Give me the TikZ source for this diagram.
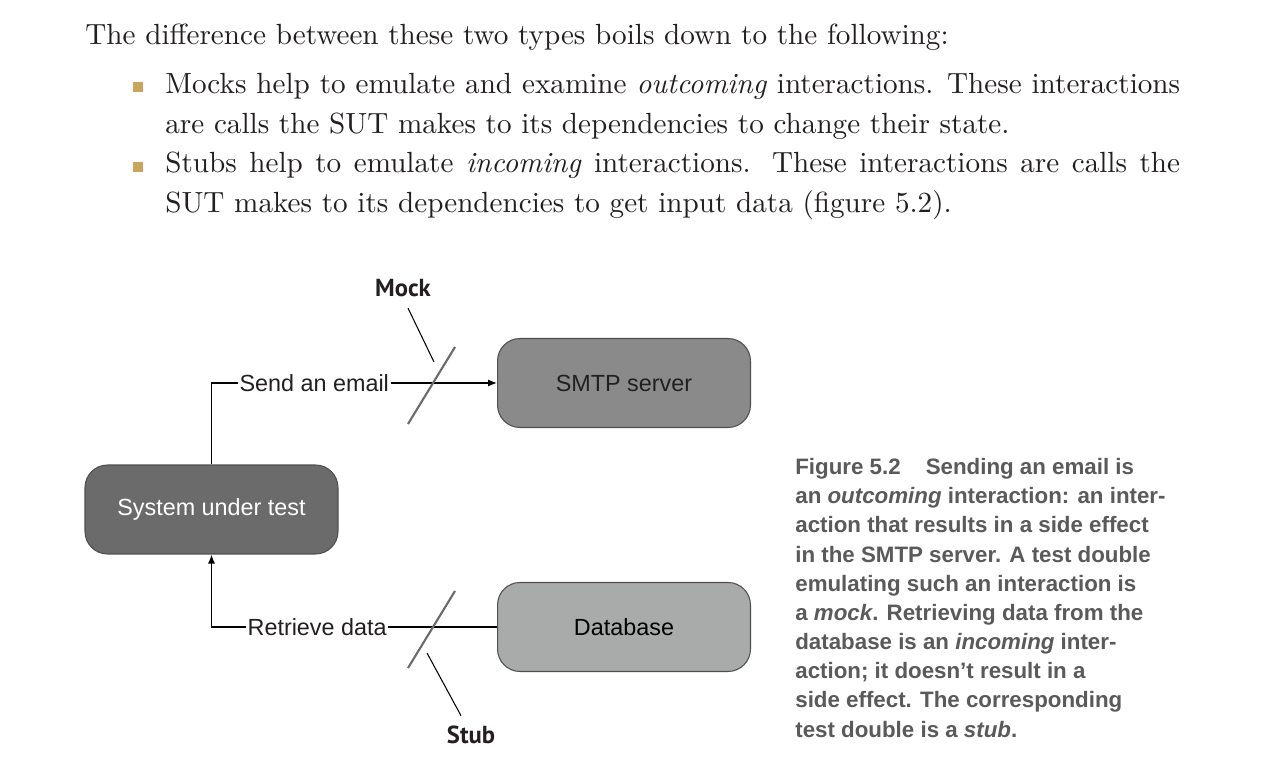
\documentclass[tikz,border=0pt]{standalone}
\usepackage{fontspec}
\usepackage{xcolor}
\usepackage{tikz}
\usetikzlibrary{arrows.meta, positioning}
\newfontfamily\bodyfont{lmroman10-regular.otf}[ItalicFont=lmroman10-italic.otf]
\newfontfamily\diagfont{Liberation Sans}
\newfontfamily\tagfont{PT Sans}
\definecolor{inkblack}{HTML}{231F20}
\definecolor{bulletgold}{HTML}{C9A55C}
\definecolor{sutgray}{HTML}{6B6B6B}
\definecolor{smtpgray}{HTML}{8A8A8A}
\definecolor{dbgray}{HTML}{A9AAAA}
\definecolor{edgegray}{HTML}{4F4F4F}
\definecolor{capgray}{HTML}{5A5A5A}
\definecolor{cutgray}{HTML}{6A6A6A}
\tikzset{
  bodytxt/.style={anchor=base west,inner sep=0pt,text=inkblack,font=\bodyfont\fontsize{16.6}{20}\selectfont},
  sysbox/.style={draw=edgegray,line width=0.6pt,rounded corners=0.45cm,minimum width=5.06cm,minimum height=1.78cm,font=\diagfont\fontsize{13.3}{16}\selectfont},
  sutbox/.style={sysbox,fill=sutgray,text=white},
  srvbox/.style={sysbox,fill=smtpgray,text=inkblack},
  dbbox/.style={sysbox,fill=dbgray,text=black},
  callarrow/.style={draw=black,line width=0.7pt,-{Latex[length=1.8mm,width=1.4mm]}},
  edgelbl/.style={fill=white,inner xsep=1pt,inner ysep=2pt,text=inkblack,font=\diagfont\fontsize{13.3}{16}\selectfont},
  cutmark/.style={cutgray,line width=1.2pt},
  pointer/.style={black,line width=0.6pt},
  tagtxt/.style={inner sep=0pt,text=inkblack,font=\tagfont\bfseries\fontsize{14}{16}\selectfont},
  captxt/.style={anchor=base west,inner sep=0pt,align=left,text=capgray,font=\diagfont\bfseries\fontsize{12.7}{16.6}\selectfont},
}

\begin{document}
\begin{tikzpicture}[x=0.02cm,y=-0.02cm]
  \useasboundingbox[fill=white] (0,0) rectangle (1281,766);
  % running text above the figure
  \node[bodytxt] (intro) at (85,45) {The difference between these two types boils down to the following:};
  \fill[bulletgold] (133,82) rectangle (143,92);
  \node[bodytxt] (mocksa) at (165,94) {\makebox[20.3cm][s]{Mocks help to emulate and examine \textit{outcoming} interactions. These interactions}};
  \node[bodytxt] (mocksb) at (165,133.5) {are calls the SUT makes to its dependencies to change their state.};
  \fill[bulletgold] (133,162) rectangle (143,172);
  \node[bodytxt] (stubsa) at (165,173) {\makebox[20.3cm][s]{Stubs help to emulate \textit{incoming} interactions. These interactions are calls the}};
  \node[bodytxt] (stubsb) at (165,212.5) {SUT makes to its dependencies to get input data (figure 5.2).};

  % boxes
  \node[sutbox] (sut) at (211.5,509.5) {System under test};
  \node[srvbox] (smtp) at (624,383) {SMTP server};
  \node[dbbox] (db) at (624,627) {Database};

  % calls
  \draw[callarrow] (sut.north) |- node[edgelbl,pos=0.68] {Send an email} (smtp.west);
  \draw[callarrow] (db.west) -| node[edgelbl,pos=0.315] {Retrieve data} (sut.south);

  % mock / stub marks
  \draw[cutmark] (408,424) -- (455,347);
  \draw[cutmark] (408,668) -- (455,591);
  \node[tagtxt] (mock) at (403,288) {Mock};
  \node[tagtxt] (stub) at (471,735) {Stub};
  \coordinate (mocktip) at (434,362);
  \coordinate (stubtip) at (427,653);
  \draw[pointer] ([shift={(5,11)}]mock.south) -- (mocktip);
  \draw[pointer] ([shift={(-10,-10)}]stub.north) -- (stubtip);

  % caption (base = last line)
  \node[captxt] (caption) at (795,737) {Figure 5.2\hspace{0.5cm}Sending an email is\\
    an \textit{outcoming} interaction: an inter-\\
    action that results in a side effect\\
    in the SMTP server. A test double\\
    emulating such an interaction is\\
    a \textit{mock}. Retrieving data from the\\
    database is an \textit{incoming} inter-\\
    action; it doesn’t result in a\\
    side effect. The corresponding\\
    test double is a \textit{stub}.};
\end{tikzpicture}
\end{document}
